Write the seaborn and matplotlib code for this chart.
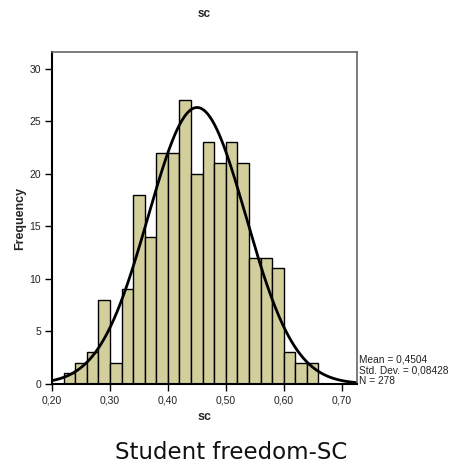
import numpy as np
import pandas as pd
import matplotlib
matplotlib.use("Agg")
import matplotlib.pyplot as plt
import seaborn as sns
from matplotlib.ticker import FuncFormatter

# Histogram of the "sc" score: bin edges (width 0.02) and counts per bin
bin_edges = [0.22, 0.24, 0.26, 0.28, 0.30, 0.32, 0.34, 0.36, 0.38, 0.40, 0.42,
             0.44, 0.46, 0.48, 0.50, 0.52, 0.54, 0.56, 0.58, 0.60, 0.62, 0.64, 0.66]
counts = [1, 2, 3, 8, 2, 9, 18, 14, 22, 22, 27, 20, 23, 21, 23, 21, 12, 12, 11, 3, 2, 2]

# Summary statistics shown next to the plot
mean_sc = 0.4504
sd_sc = 0.08428
n_sc = 278

x_ticks = [0.20, 0.30, 0.40, 0.50, 0.60, 0.70]
y_ticks = [0, 5, 10, 15, 20, 25, 30]

sns.set_theme(style="white")
plt.rcParams["font.family"] = ["Liberation Sans", "DejaVu Sans"]

edges = np.array(bin_edges)
centers = (edges[:-1] + edges[1:]) / 2
df = pd.DataFrame({"sc": centers, "n": counts})

fig = plt.figure(figsize=(4.59, 4.66), dpi=100)
ax = fig.add_axes([0.1133, 0.176, 0.6645, 0.7124])

sns.histplot(data=df, x="sc", weights="n", bins=list(bin_edges), ax=ax,
             color="#d3cf9d", alpha=1.0, edgecolor="black", linewidth=1.0)

# Normal curve scaled to counts per bin
xmin, xmax = 0.20, 0.7265
bw = edges[1] - edges[0]
xs = np.linspace(xmin, xmax, 400)
ys = n_sc * bw / (sd_sc * np.sqrt(2 * np.pi)) * np.exp(-0.5 * ((xs - mean_sc) / sd_sc) ** 2)
sns.lineplot(x=xs, y=ys, ax=ax, color="black", linewidth=2.0)

ax.set_xlim(xmin, xmax)
ax.set_ylim(0, 31.6)
ax.set_xticks(x_ticks)
ax.set_yticks(y_ticks)
ax.xaxis.set_major_formatter(FuncFormatter(lambda v, p: f"{v:.2f}".replace(".", ",")))
ax.tick_params(axis="both", which="major", length=5, width=1, color="black",
               labelsize=7.5, labelcolor="#222222", pad=3, direction="out",
               bottom=True, left=True)

for side in ("left", "bottom"):
    ax.spines[side].set_color("black")
    ax.spines[side].set_linewidth(1.5)
for side in ("top", "right"):
    ax.spines[side].set_color("#666666")
    ax.spines[side].set_linewidth(1.2)

ax.set_xlabel("sc", fontsize=9, fontweight="bold", labelpad=4)
ax.set_ylabel("Frequency", fontsize=9, fontweight="bold", labelpad=2)
ax.set_title("sc", fontsize=8.5, fontweight="bold", pad=25)

mean_txt = f"{mean_sc:.4f}".replace(".", ",")
sd_txt = f"{sd_sc:.5f}".replace(".", ",")
stats = f"Mean = {mean_txt}\nStd. Dev. = {sd_txt}\nN = {n_sc}"
ax.text(1.005, -0.005, stats, transform=ax.transAxes, fontsize=7.3,
        ha="left", va="bottom", linespacing=1.05, color="#222222")

fig.text(0.503, 0.015, "Student freedom-SC", fontsize=16.5,
         family="DejaVu Sans", ha="center", va="baseline", color="#111111")

fig.savefig("out.png", dpi=100)
